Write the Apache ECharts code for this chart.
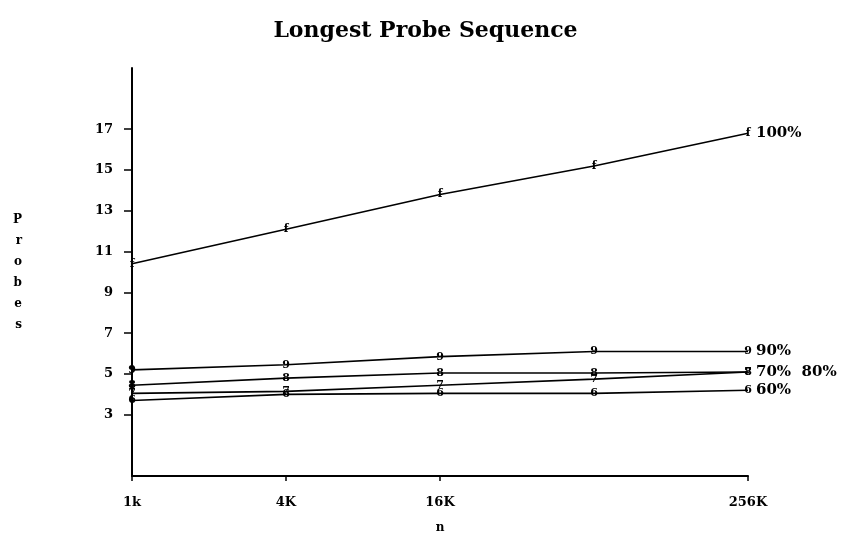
<!DOCTYPE html>
<html>
<head>
<meta charset="utf-8">
<script src="https://cdn.jsdelivr.net/npm/echarts@6/dist/echarts.min.js"></script>
<style>
  html, body { margin: 0; padding: 0; background: #fff; }
  #main { width: 851px; height: 540px; }
</style>
</head>
<body>
<div id="main"></div>
<script>
// table sizes, in K
var sizes = [1, 4, 16, 64, 256];
var sizeLabels = { 1: '1k', 4: '4K', 16: '16K', 256: '256K' };
var yTicks = [3, 5, 7, 9, 11, 13, 15, 17];

// longest probe sequence per load factor
var load100 = [10.4, 12.1, 13.8, 15.2, 16.8];
var load90 = [5.2, 5.45, 5.85, 6.1, 6.1];
var load80 = [4.45, 4.8, 5.05, 5.05, 5.1];
var load70 = [4.05, 4.15, 4.45, 4.75, 5.1];
var load60 = [3.7, 4.0, 4.05, 4.05, 4.2];

var serif = 'DejaVu Serif';

function makeSeries(name, values, mark, endText) {
    return {
        name: name,
        type: 'line',
        data: sizes.map(function (s, i) { return [s, values[i]]; }),
        symbol: 'circle',
        symbolSize: 0.01,
        showSymbol: true,
        showAllSymbol: true,
        clip: false,
        itemStyle: { color: 'rgba(0,0,0,0)' },
        lineStyle: { color: '#000', width: 1.6 },
        label: {
            show: true,
            position: 'inside',
            formatter: mark,
            color: '#000',
            fontFamily: serif,
            fontWeight: 'bold',
            fontSize: 11
        },
        labelLayout: { hideOverlap: false },
        endLabel: {
            show: !!endText,
            formatter: endText || '',
            color: '#000',
            fontFamily: serif,
            fontWeight: 'bold',
            fontSize: 15,
            distance: 8
        },
        animation: false
    };
}

var myChart = echarts.init(document.getElementById('main'));
myChart.setOption({
    title: {
        text: 'Longest Probe Sequence',
        left: 'center',
        top: 15,
        textStyle: { fontFamily: serif, fontWeight: 'bold', fontSize: 22, color: '#000' }
    },
    grid: { left: 132, right: 103, top: 68, bottom: 64 },
    xAxis: {
        type: 'log',
        logBase: 2,
        min: 1,
        max: 256,
        name: 'n',
        nameLocation: 'middle',
        nameGap: 46,
        nameTextStyle: { fontFamily: serif, fontWeight: 'bold', fontSize: 12, color: '#000' },
        axisLine: { lineStyle: { color: '#000', width: 2 } },
        axisTick: { customValues: [1, 4, 16, 256], length: 5, lineStyle: { color: '#000', width: 1.5 } },
        axisLabel: {
            customValues: [1, 4, 16, 256],
            formatter: function (v) { return sizeLabels[Math.round(v)] || ''; },
            margin: 20,
            fontFamily: serif,
            fontWeight: 'bold',
            fontSize: 13,
            color: '#000'
        },
        splitLine: { show: false }
    },
    yAxis: {
        type: 'value',
        min: 0,
        max: 20,
        name: 'P\nr\no\nb\ne\ns',
        nameLocation: 'middle',
        nameRotate: 0,
        nameGap: 110,
        nameTextStyle: { fontFamily: serif, fontWeight: 'bold', fontSize: 12, lineHeight: 21, color: '#000' },
        axisLine: { show: true, lineStyle: { color: '#000', width: 2 } },
        axisTick: { show: true, customValues: yTicks, length: 8, lineStyle: { color: '#000', width: 1.5 } },
        axisLabel: {
            customValues: yTicks,
            margin: 19,
            fontFamily: serif,
            fontWeight: 'bold',
            fontSize: 13,
            color: '#000'
        },
        splitLine: { show: false }
    },
    series: [
        makeSeries('100%', load100, 'f', '100%'),
        makeSeries('90%', load90, '9', '90%'),
        makeSeries('80%', load80, '8', '70%  80%'),
        makeSeries('70%', load70, '7', null),
        makeSeries('60%', load60, '6', '60%')
    ]
});
</script>
</body>
</html>
